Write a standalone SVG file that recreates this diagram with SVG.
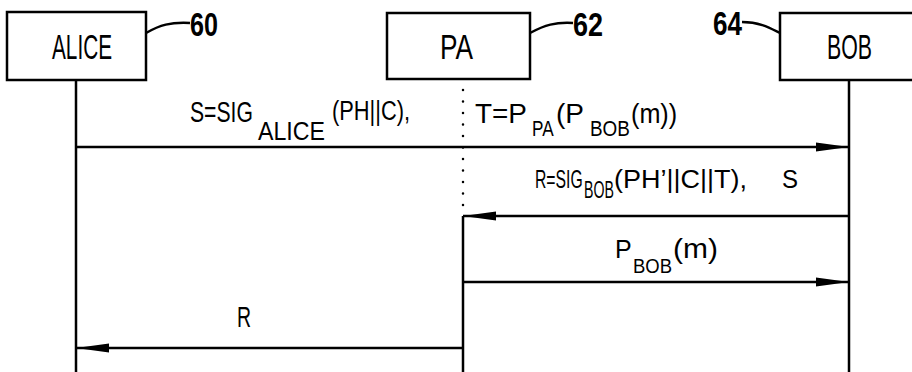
<svg xmlns="http://www.w3.org/2000/svg" width="912" height="372" viewBox="0 0 912 372">
<style>
.box{fill:#fff;stroke:#000;stroke-width:2.5}
.ln{fill:none;stroke:#000;stroke-width:2.5}
.dot{fill:none;stroke:#000;stroke-width:2.5;stroke-linecap:round;stroke-dasharray:0 11.5}
text{font-family:"Liberation Sans",Arial,sans-serif;fill:#000}
.n{font-size:35px}
.r{font-size:33px;font-weight:bold}
</style>
<defs>
<marker id="ah" markerUnits="userSpaceOnUse" markerWidth="36" markerHeight="12" refX="33" refY="5" orient="auto">
<path d="M0,0.5 L33,5 L0,9.5 Z" fill="#000"/>
</marker>
</defs>
<g id="alice">
<rect class="box" x="7" y="12" width="139" height="68"/>
<text class="n" transform="translate(52 59) scale(0.593 1)">ALICE</text>
<path class="ln" d="M146,33 C160,25 170,22 190,23"/>
<text class="r" transform="translate(190 36) scale(0.763 1)">60</text>
</g>
<g id="pa">
<rect class="box" x="387" y="13" width="143" height="66"/>
<text class="n" transform="translate(440 59) scale(0.75 1)">PA</text>
<path class="ln" d="M530,33 C545,25 555,22 573,23"/>
<text class="r" transform="translate(573 36) scale(0.818 1)">62</text>
</g>
<g id="bob">
<rect class="box" x="780" y="13" width="140" height="67"/>
<text class="n" transform="translate(827 59) scale(0.609 1)">BOB</text>
<path class="ln" d="M742,22 C760,22 770,28 780,33"/>
<text class="r" transform="translate(713 35) scale(0.79 1)">64</text>
</g>
<g id="connectors">
<line class="ln" x1="76" y1="80" x2="76" y2="372"/>
<line class="ln" x1="849" y1="80" x2="849" y2="372"/>
<line class="dot" x1="463" y1="90" x2="463" y2="208"/>
<line class="ln" x1="463" y1="216" x2="463" y2="372"/>
<line class="ln" x1="76" y1="147" x2="849" y2="147" marker-end="url(#ah)"/>
<line class="ln" x1="849" y1="216" x2="463" y2="216" marker-end="url(#ah)"/>
<line class="ln" x1="463" y1="282" x2="849" y2="282" marker-end="url(#ah)"/>
<line class="ln" x1="463" y1="348" x2="76" y2="348" marker-end="url(#ah)"/>
</g>
<g id="labels">
<text font-size="30" transform="translate(190 122) scale(0.706 1)">S=SIG</text>
<text font-size="25" transform="translate(258 140) scale(0.927 1)">ALICE</text>
<text font-size="28" transform="translate(332 120) scale(0.78 1)">(PH||C),</text>
<text font-size="28" transform="translate(475 123) scale(0.997 1)">T=P</text>
<text font-size="22" transform="translate(532 136) scale(0.78 1)">PA</text>
<text font-size="28" transform="translate(556 123) scale(1 1)">(P</text>
<text font-size="22" transform="translate(590 136) scale(0.86 1)">BOB</text>
<text font-size="28" transform="translate(631 123) scale(0.9 1)">(m))</text>
<text font-size="25" transform="translate(535 188) scale(0.63 1)">R=SIG</text>
<text font-size="24" transform="translate(584 198) scale(0.59 1)">BOB</text>
<text font-size="25" transform="translate(614 188) scale(1.08 1)">(PH’||C||T),</text>
<text font-size="25" transform="translate(782 188) scale(0.96 1)">S</text>
<text font-size="25" transform="translate(615 258) scale(1 1)">P</text>
<text font-size="21" transform="translate(633 273) scale(0.88 1)">BOB</text>
<text font-size="28" transform="translate(673 258) scale(1.07 1)">(m)</text>
<text font-size="30" transform="translate(237 327) scale(0.65 1)">R</text>
</g>
</svg>
